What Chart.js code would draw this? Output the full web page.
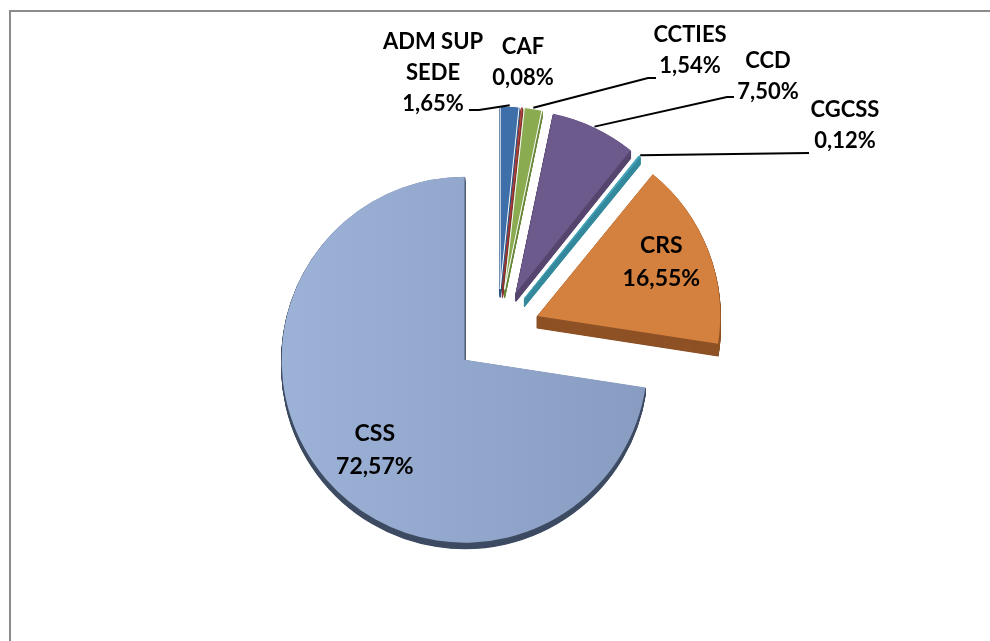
<!DOCTYPE html>
<html>
<head>
<meta charset="utf-8">
<script src="https://cdn.jsdelivr.net/npm/chart.js@4.4.0/dist/chart.umd.min.js"></script>
<style>
html,body{margin:0;padding:0;background:#fff;overflow:hidden;}
#wrap{position:relative;width:990px;height:641px;overflow:hidden;background:#fff;}
.fr{position:absolute;background:#8c8c8c;}
#c{position:absolute;left:0;top:0;}
</style>
</head>
<body>
<div id="wrap">
  <div class="fr" style="left:9px;top:10px;width:981px;height:2px;"></div>
  <div class="fr" style="left:9px;top:10px;width:2px;height:631px;"></div>
  <canvas id="c" width="990" height="641"></canvas>
</div>
<script>
// ---- data ----
const categories = [['ADM SUP', 'SEDE'], ['CAF'], ['CCTIES'], ['CCD'], ['CGCSS'], ['CRS'], ['CSS']];
const shares = [1.65, 0.08, 1.54, 7.50, 0.12, 16.55, 72.57];

// ---- styles ----
const topColors  = ['#3f6fa8', '#c0504d', '#8aab50', '#6d5a8c', '#45a3bb', '#d4803e', '#93a8cc'];
const sideColors = ['#2f5583', '#8a3331', '#6a8a3c', '#56466f', '#348a9c', '#8e5226', '#3e4c63'];
const explodePx  = [42, 42, 42, 42, 42, 42, 44];
const depthPx    = [8, 8, 8, 8, 8, 12, 6];
const borderW    = [1, 0, 1, 0, 1, 0, 0];
const borderC    = ['#ffffff', '#ffffff', '#ffffff', '#ffffff', '#45a3bb', '#ffffff', '#ffffff'];
// label placement (relative to chart centre); inside labels use fraction of radius + angular tweak (deg)
const labelPlace = [
  {dx: -65, dy: -290, leader: [[-19, -221], [-29, -221]]},
  {dx: 25,  dy: -285, leader: null},
  {dx: 192, dy: -297, leader: [[150, -253], [158, -253]]},
  {dx: 270, dy: -271, leader: [[229, -234], [236, -234]]},
  {dx: 347, dy: -222, leader: [[311, -178]]},
  {inside: 0.74, turn: -2.5},
  {inside: 0.695, turn: -4.5}
];
const FONT_OUT = 'bold 22px Lato, "Open Sans", sans-serif';
const FONT_IN  = 'bold 23px Lato, "Open Sans", sans-serif';

function fmtPct(v) { return v.toFixed(2).replace('.', ',') + '%'; }

const explodePlugin = {
  id: 'explode3d',
  afterDatasetUpdate(chart, args) {
    const ca = chart.chartArea;
    const cx = (ca.left + ca.right) / 2, cy = (ca.top + ca.bottom) / 2;
    args.meta.data.forEach((arc, i) => {
      const mid = (arc.startAngle + arc.endAngle) / 2;
      arc.x = cx + Math.cos(mid) * explodePx[i];
      arc.y = cy + Math.sin(mid) * explodePx[i];
    });
  },
  beforeDatasetsDraw(chart) {
    const ctx = chart.ctx;
    const meta = chart.getDatasetMeta(0);
    ctx.save();
    meta.data.forEach((arc, i) => {
      ctx.fillStyle = sideColors[i];
      ctx.strokeStyle = sideColors[i];
      ctx.lineWidth = 1.2;
      ctx.lineJoin = 'round';
      for (let d = depthPx[i]; d >= 1; d -= 0.5) {
        ctx.beginPath();
        ctx.moveTo(arc.x, arc.y + d);
        ctx.arc(arc.x, arc.y + d, arc.outerRadius, arc.startAngle, arc.endAngle);
        ctx.closePath();
        ctx.fill();
        ctx.stroke();
      }
    });
    ctx.restore();
  },
  afterDatasetsDraw(chart) {
    const ctx = chart.ctx;
    const meta = chart.getDatasetMeta(0);
    const ca = chart.chartArea;
    const cx = (ca.left + ca.right) / 2, cy = (ca.top + ca.bottom) / 2;
    ctx.save();
    ctx.fillStyle = '#000';
    ctx.textAlign = 'center';
    ctx.textBaseline = 'alphabetic';
    meta.data.forEach((arc, i) => {
      const p = labelPlace[i];
      const lines = categories[i].concat([fmtPct(shares[i])]);
      const mid = (arc.startAngle + arc.endAngle) / 2;
      if (p.inside) {
        ctx.font = FONT_IN;
        const a = mid + (p.turn || 0) * Math.PI / 180;
        const r = arc.outerRadius * p.inside;
        const x = arc.x + Math.cos(a) * r;
        const y = arc.y + Math.sin(a) * r;
        const step = 33;
        const y0 = y - step * (lines.length - 1) / 2;
        lines.forEach((t, k) => ctx.fillText(t, x, y0 + k * step + 8));
      } else {
        ctx.font = FONT_OUT;
        const x = cx + p.dx, y0 = cy + p.dy;
        const step = 31;
        lines.forEach((t, k) => ctx.fillText(t, x, y0 + k * step + 8));
        if (p.leader) {
          ctx.beginPath();
          ctx.strokeStyle = '#000';
          ctx.lineWidth = 2;
          const r = arc.outerRadius + 1;
          ctx.moveTo(arc.x + Math.cos(mid) * r, arc.y + Math.sin(mid) * r);
          p.leader.forEach(pt => ctx.lineTo(cx + pt[0], cy + pt[1]));
          ctx.stroke();
        }
      }
    });
    ctx.restore();
  }
};

new Chart(document.getElementById('c'), {
  type: 'pie',
  data: {
    labels: categories.map(c => c.join(' ')),
    datasets: [{
      data: shares,
      backgroundColor: (c) => {
        const i = c.dataIndex;
        const ch = c.chart;
        if (i === 6 && ch.chartArea) {
          const ca = ch.chartArea;
          const cx = (ca.left + ca.right) / 2;
          const g = ch.ctx.createLinearGradient(cx - 220, 0, cx + 140, 0);
          g.addColorStop(0, '#9db2d7');
          g.addColorStop(1, '#889dc1');
          return g;
        }
        return topColors[i];
      },
      borderColor: borderC,
      borderWidth: borderW,
      hoverOffset: 0
    }]
  },
  options: {
    responsive: false,
    animation: false,
    events: [],
    radius: 183,
    layout: {padding: {left: 6, top: 21, right: 0, bottom: 0}},
    plugins: {legend: {display: false}, tooltip: {enabled: false}}
  },
  plugins: [explodePlugin]
});
</script>
</body>
</html>
